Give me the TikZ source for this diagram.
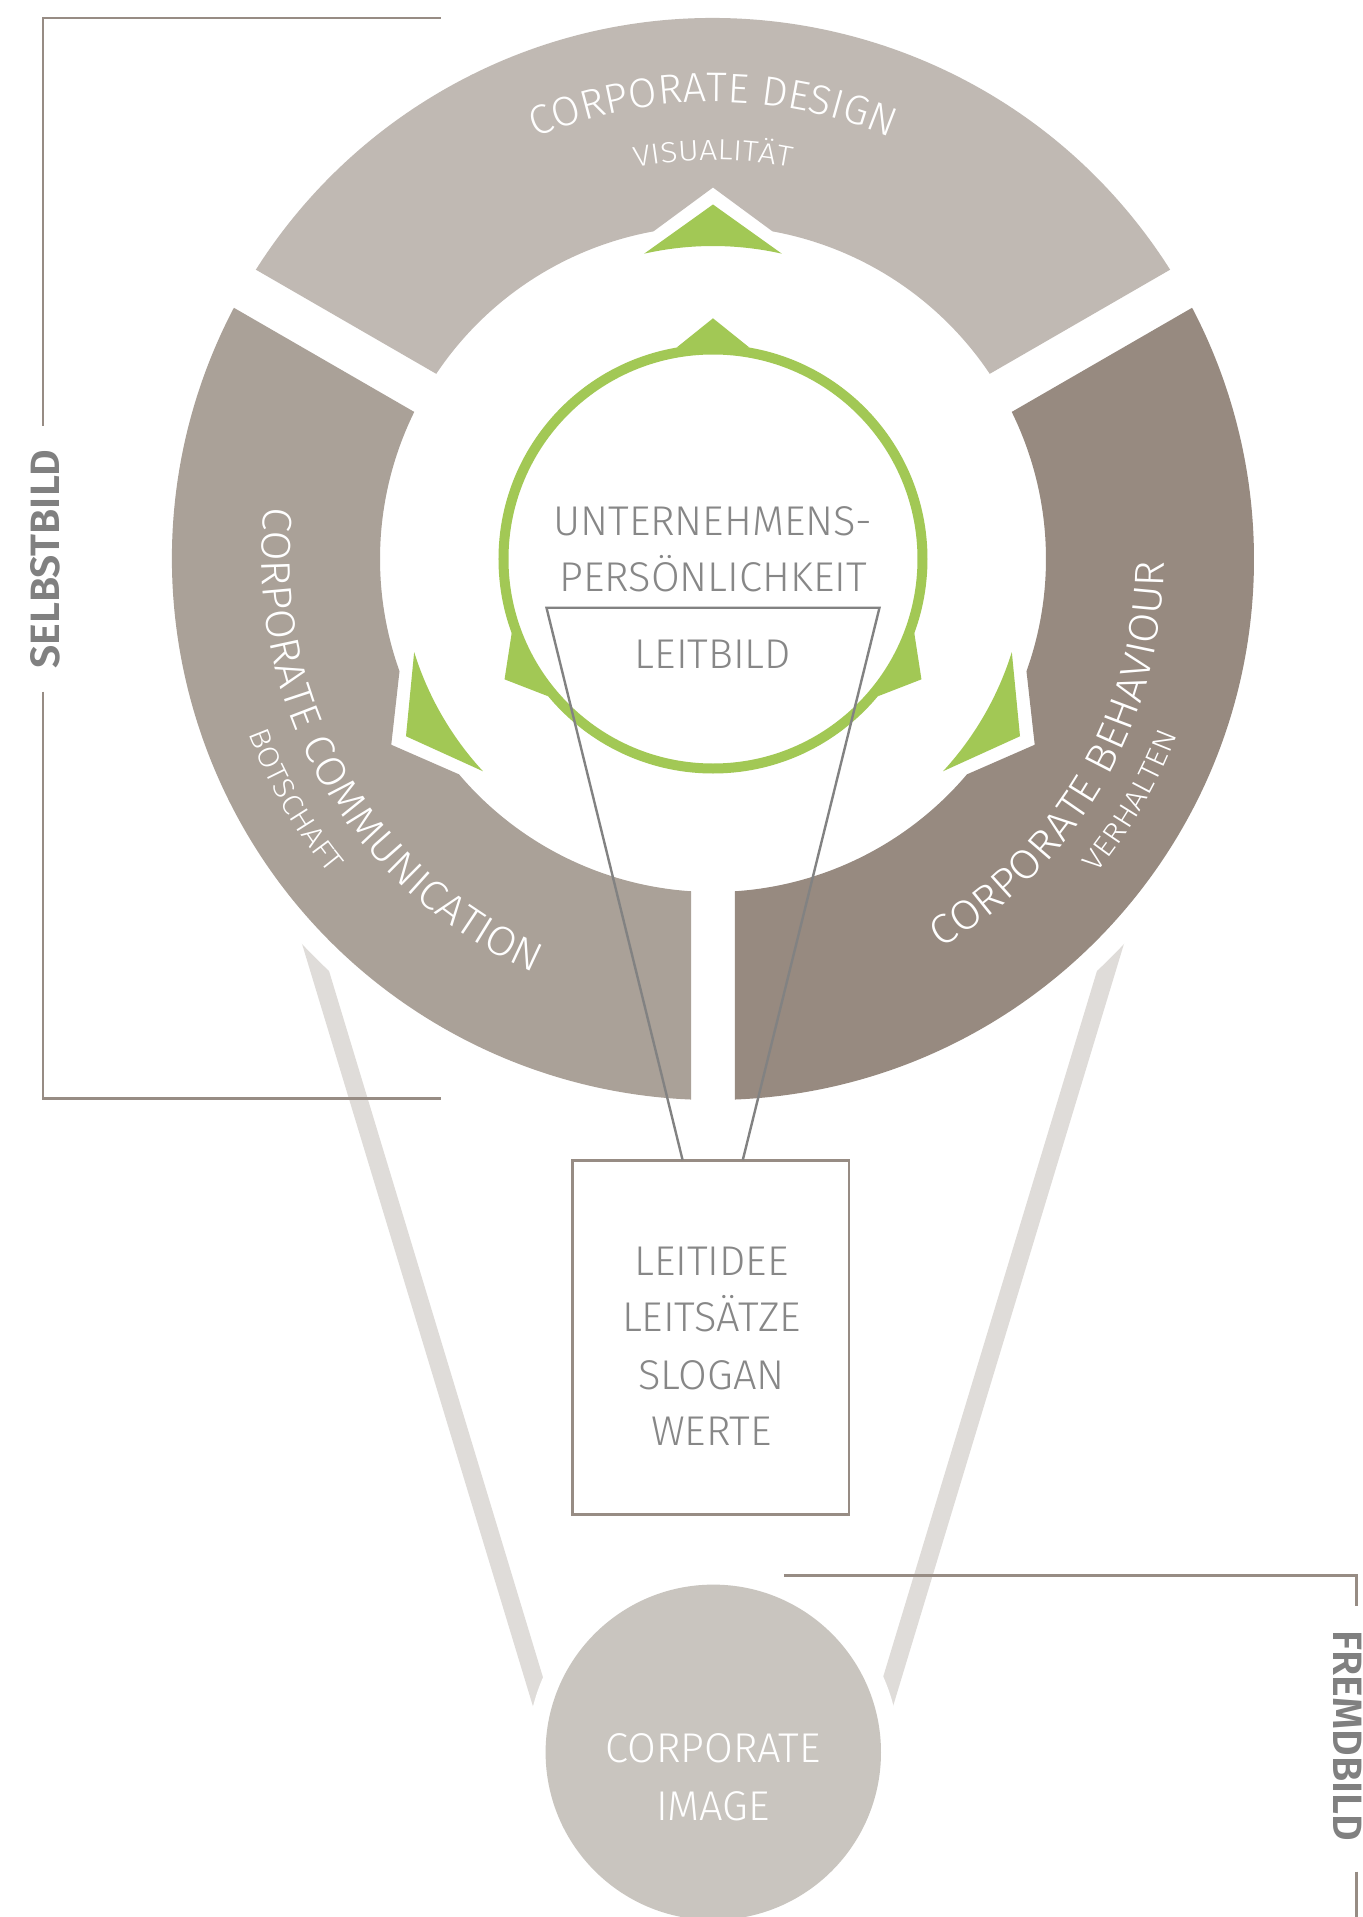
\documentclass[tikz,border=0pt]{standalone}
\usepackage{fontspec}
\usepackage{xcolor}
\usetikzlibrary{math,decorations.text}

\newfontfamily\thinfont{Fira Sans Light}
\newfontfamily\thinwide{Fira Sans Light}[FakeStretch=1.06]
\newfontfamily\thinsub{Fira Sans Light}[FakeStretch=1.1]
\newfontfamily\heavyfont{Fira Sans SemiBold}
\newcommand\ringmain{\thinfont\fontsize{20.7}{25}\selectfont}
\newcommand\ringside{\thinwide\fontsize{20.7}{25}\selectfont}
\newcommand\ringsub{\thinsub\fontsize{14.5}{18}\selectfont}
\newcommand\bodyfont{\thinfont\fontsize{20.8}{25}\selectfont}
\newcommand\sidefont{\heavyfont\fontsize{20.5}{25}\selectfont}

\definecolor{designgrey}{HTML}{C0B9B3}
\definecolor{commgrey}{HTML}{AAA198}
\definecolor{behavgrey}{HTML}{978A80}
\definecolor{ropegrey}{HTML}{DFDCD9}
\definecolor{imagegrey}{HTML}{C9C5BF}
\definecolor{leafgreen}{HTML}{A2C855}
\definecolor{framegrey}{HTML}{978C84}
\definecolor{linegrey}{HTML}{828282}
\definecolor{textgrey}{HTML}{878787}
\definecolor{sidegrey}{HTML}{808080}

\begin{document}
\begin{tikzpicture}[x=0.5pt, y=0.5pt,
  ringtext/.style={decorate, decoration={text along path, text align=center, text color=white, text={#1}}},
  bodytext/.style={inner sep=0, anchor=base, text=textgrey, font=\bodyfont},
  sidelabel/.style={inner sep=0, text=sidegrey, font=\sidefont},
  bracket/.style={framegrey, line width=1.3pt},
  rope/.style={ropegrey, line width=9pt},
  trap/.style={linegrey, line width=1.2pt}]

\tikzmath{
\Rout = 541; \Rin = 333;
\gapOut = asin(22/\Rout); \gapIn = asin(22/\Rin);
\notch = 10.3; \Rnotch = 371.5;
}

\useasboundingbox (-713,-1358) rectangle (650,559);

% ropes of the balloon
\draw[rope] (-411.4,-352.4) -- (-156.8,-1193);
\draw[rope] (411.4,-352.4) -- (156.8,-1193);
\fill[white] (0,0) circle[radius=563];
\fill[white] (0.3,-1193.3) circle[radius=186];

% the three segments
\foreach \rot/\col in {0/designgrey, 120/commgrey, 240/behavgrey} {
  \fill[\col, rotate=\rot] ({30+\gapOut}:\Rout) arc[start angle={30+\gapOut}, end angle={150-\gapOut}, radius=\Rout]
    -- ({150-\gapIn}:\Rin) arc[start angle={150-\gapIn}, end angle={90+\notch}, radius=\Rin]
    -- (90:\Rnotch) -- ({90-\notch}:\Rin) arc[start angle={90-\notch}, end angle={30+\gapIn}, radius=\Rin] -- cycle;
}

% green arrows and circle
\foreach \rot in {0,120,240} {
  \fill[leafgreen, rotate=\rot] (102.7:313) -- (90:354.5) -- (77.3:313) arc[start angle=77.3, end angle=102.7, radius=313] -- cycle;
  \fill[leafgreen, rotate=\rot] (99.8:214.5) -- (90:240.7) -- (80.2:214.5) -- cycle;
}
\draw[leafgreen, line width=5pt] (0,0) circle[radius=209.5];

% ring labels
\path[ringtext={|\ringmain|CORPORATE DESIGN}] (150:457) arc[start angle=150, end angle=30, radius=457];
\path[ringtext={|\ringsub|VISUALITÄT}] (150:399) arc[start angle=150, end angle=30, radius=399];
\path[ringtext={|\ringside|CORPORATE COMMUNICATION}] (150:451) arc[start angle=150, end angle=270, radius=451];
\path[ringtext={|\ringsub|BOTSCHAFT}] (150:496) arc[start angle=150, end angle=270, radius=496];
\path[ringtext={|\ringside|CORPORATE BEHAVIOUR}] (270:451) arc[start angle=270, end angle=390, radius=451];
\path[ringtext={|\ringsub|VERHALTEN}] (270:496) arc[start angle=270, end angle=390, radius=496];

% centre
\node[bodytext] (pers1) at (0,24) {UNTERNEHMENS-};
\node[bodytext] (pers2) at (0,-32.7) {PERSÖNLICHKEIT};
\node[bodytext] (leitbild) at (0,-109.3) {LEITBILD};

% box
\node[draw=framegrey, line width=1.25pt, minimum width=138.2pt, minimum height=177.15pt, inner sep=0] (werte) at (-2.2,-778.5) {};
\node[bodytext] (werte1) at (-1.5,-716.6) {LEITIDEE};
\node[bodytext] (werte2) at (-1.5,-772.9) {LEITSÄTZE};
\node[bodytext] (werte3) at (-1.5,-830.2) {SLOGAN};
\node[bodytext] (werte4) at (-1.5,-886.5) {WERTE};

\coordinate (trapL) at (-166.5,-48.7);
\coordinate (trapR) at (166.5,-48.7);
\coordinate (footL) at (-30.4,-601);
\coordinate (footR) at (29.8,-601);
\draw[trap] (footL) -- (trapL) -- (trapR) -- (footR);

% corporate image
\node[circle, fill=imagegrey, minimum size=167.7pt, inner sep=0] (image) at (0.3,-1193.3) {};
\node[bodytext, text=white] (image1) at (0,-1203.8) {CORPORATE};
\node[bodytext, text=white] (image2) at (0,-1261.7) {IMAGE};

% brackets
\draw[bracket] (-272.4,541) -- (-670,541) -- (-670,133);
\draw[bracket] (-670,-132.7) -- (-670,-539.3) -- (-272.4,-539.3);
\node[sidelabel, rotate=90] (selbst) at (-667.7,0) {SELBSTBILD};

\draw[bracket] (71,-1016.5) -- (643.7,-1016.5) -- (643.7,-1047);
\draw[bracket] (643.7,-1312.7) -- (643.7,-1358);
\node[sidelabel, rotate=-90] (fremd) at (635,-1176.7) {FREMDBILD};

\end{tikzpicture}
\end{document}
